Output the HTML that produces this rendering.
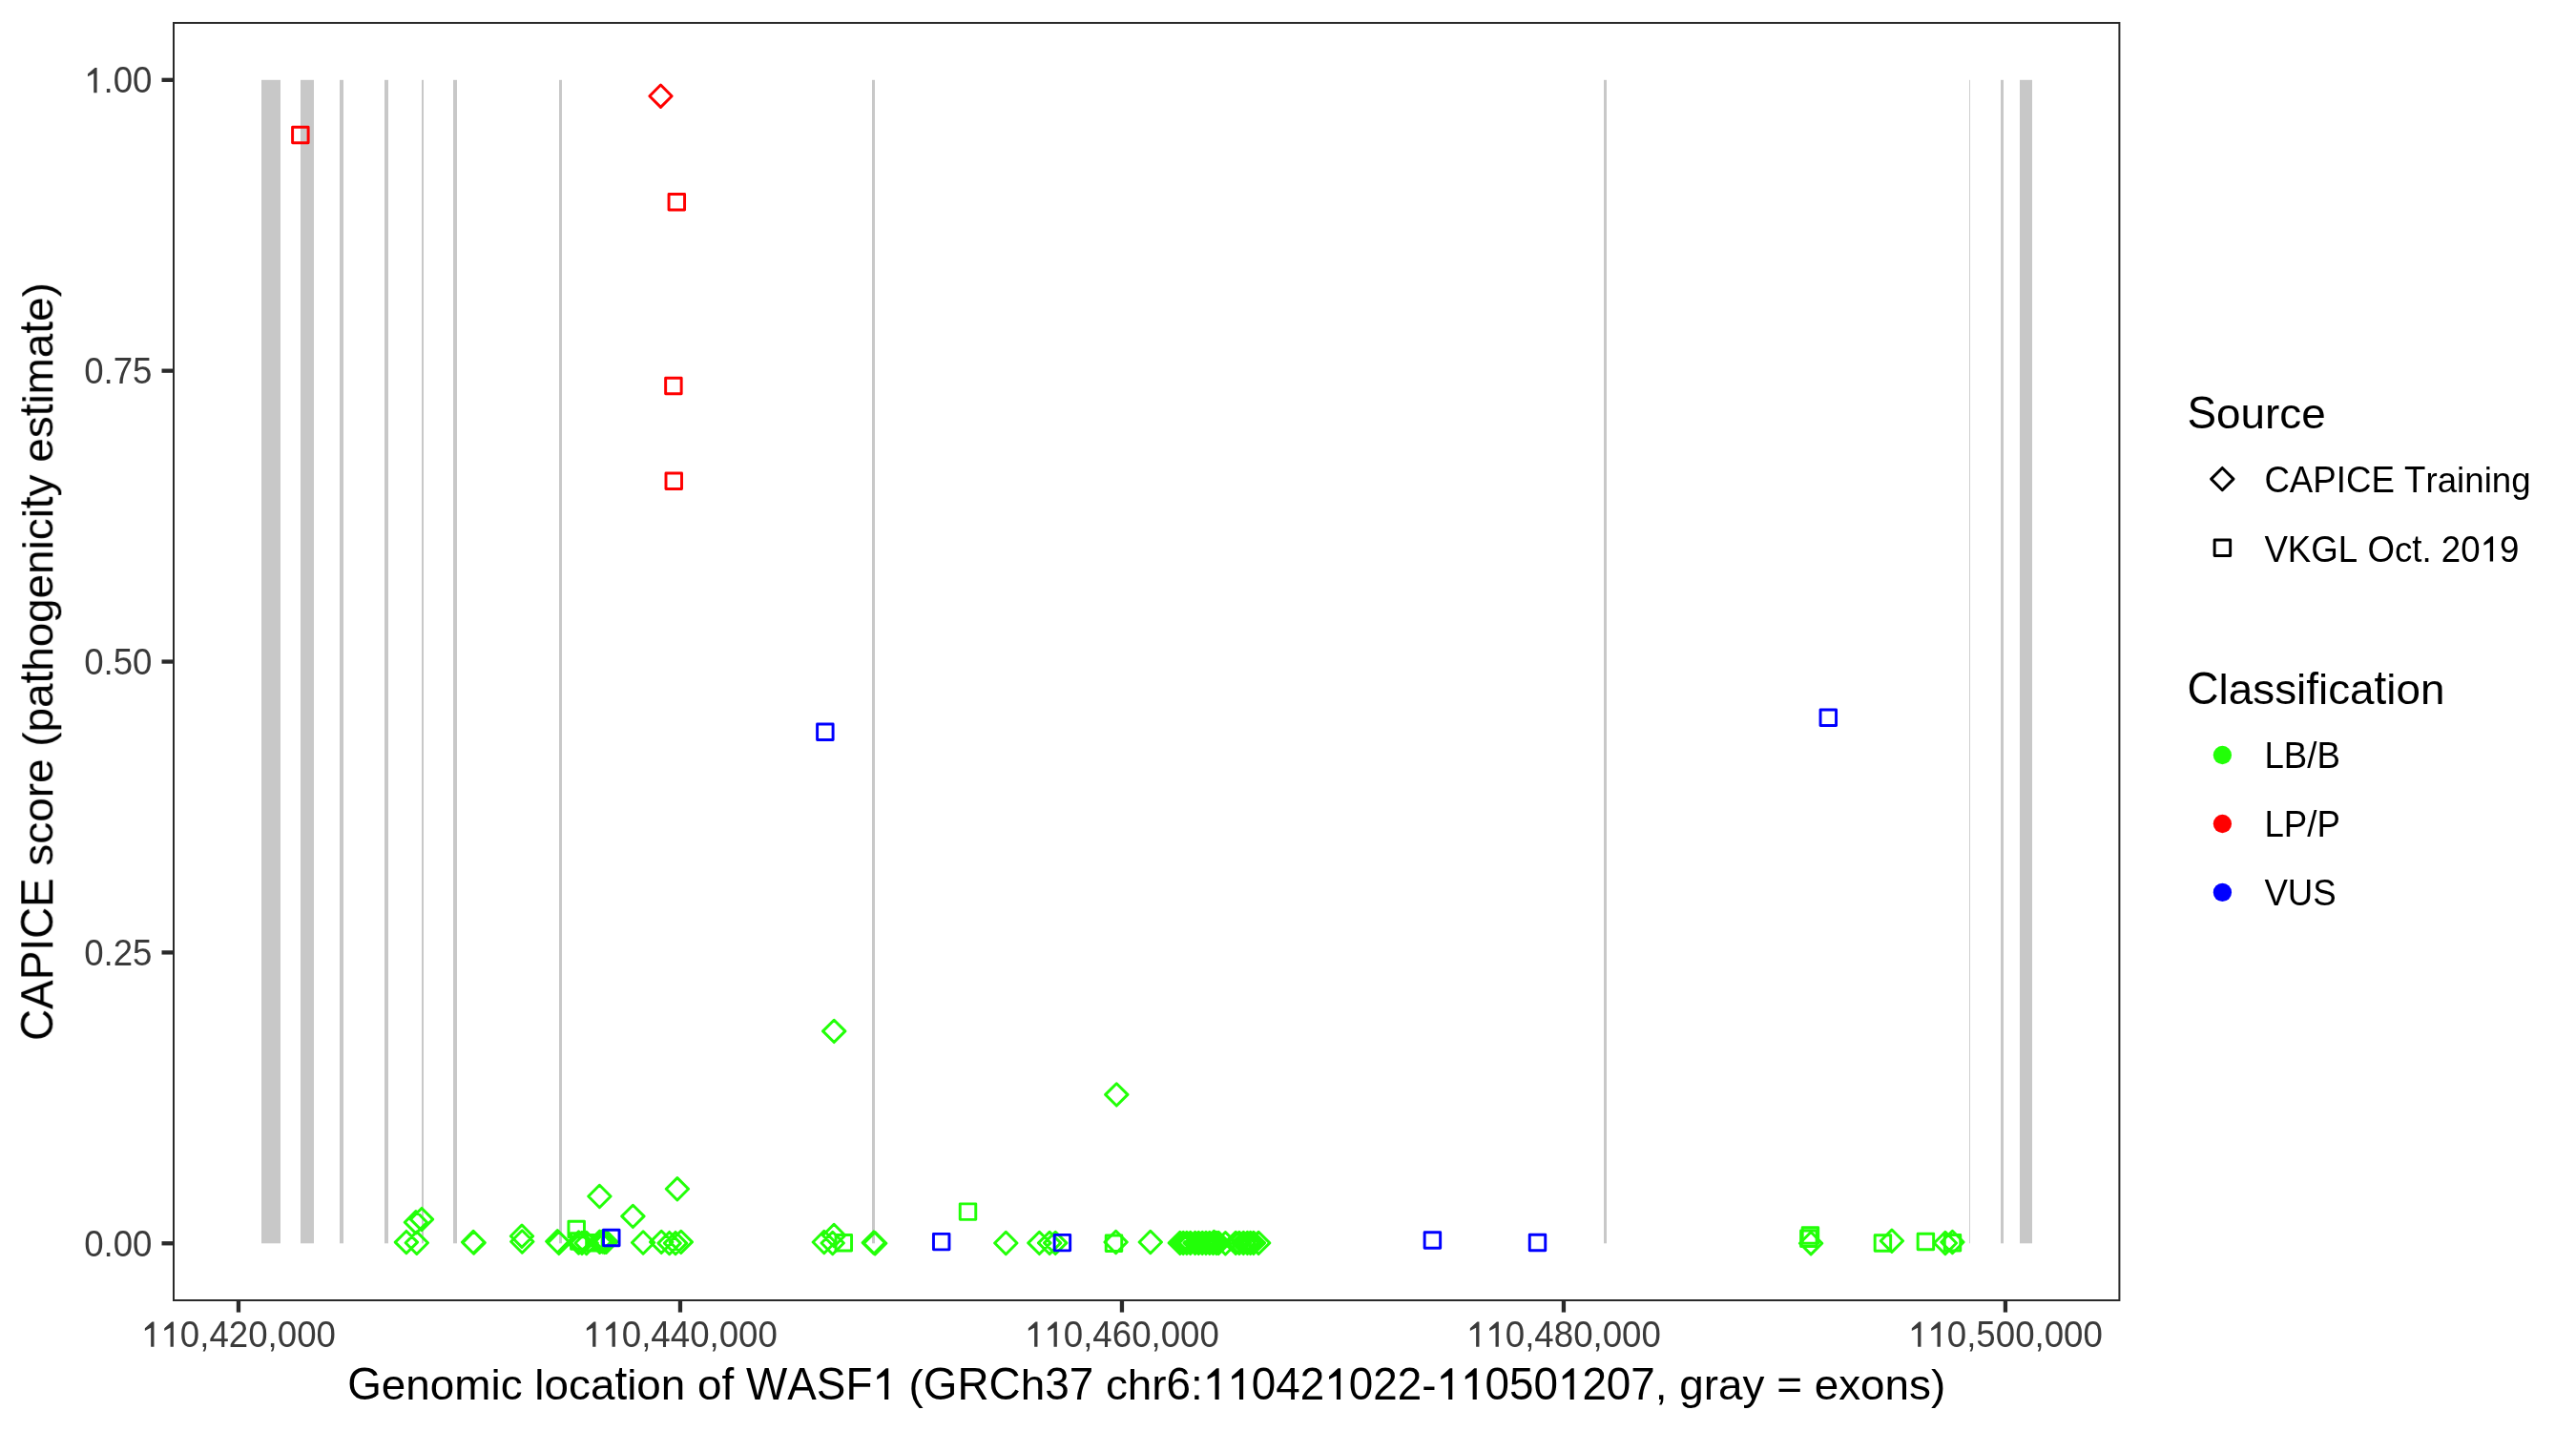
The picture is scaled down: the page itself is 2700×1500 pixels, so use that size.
<!DOCTYPE html>
<html><head><meta charset="utf-8"><title>CAPICE WASF1</title>
<style>html,body{margin:0;padding:0;background:#fff;}svg{display:block;} text{font-family:"Liberation Sans", sans-serif;font-kerning:none;font-variant-ligatures:none;font-feature-settings:"kern" 0,"liga" 0;} .txt{filter:grayscale(1);}</style>
</head><body>
<svg width="2700" height="1500" viewBox="0 0 2700 1500">
<rect x="0" y="0" width="2700" height="1500" fill="#FFFFFF"/>
<g fill="#C8C8C8">
<rect x="274" y="83.80" width="20" height="1219.50"/>
<rect x="315" y="83.80" width="14" height="1219.50"/>
<rect x="356" y="83.80" width="4" height="1219.50"/>
<rect x="403" y="83.80" width="4" height="1219.50"/>
<rect x="442" y="83.80" width="2" height="1219.50"/>
<rect x="475" y="83.80" width="4" height="1219.50"/>
<rect x="586" y="83.80" width="3" height="1219.50"/>
<rect x="914" y="83.80" width="3" height="1219.50"/>
<rect x="1681" y="83.80" width="3" height="1219.50"/>
<rect x="2064.08" y="83.80" width="0.84" height="1219.50"/>
<rect x="2097" y="83.80" width="3" height="1219.50"/>
<rect x="2117" y="83.80" width="13" height="1219.50"/>
</g>
<path d="M874.20 1069.23L885.87 1080.90L874.20 1092.57L862.53 1080.90ZM1170.30 1135.73L1181.97 1147.40L1170.30 1159.07L1158.63 1147.40ZM425.90 1290.43L437.57 1302.10L425.90 1313.77L414.23 1302.10ZM436.80 1291.13L448.47 1302.80L436.80 1314.47L425.13 1302.80ZM435.90 1269.53L447.57 1281.20L435.90 1292.87L424.23 1281.20ZM442.00 1266.43L453.67 1278.10L442.00 1289.77L430.33 1278.10ZM496.10 1290.33L507.77 1302.00L496.10 1313.67L484.43 1302.00ZM496.60 1290.93L508.27 1302.60L496.60 1314.27L484.93 1302.60ZM547.00 1284.03L558.67 1295.70L547.00 1307.37L535.33 1295.70ZM547.30 1289.83L558.97 1301.50L547.30 1313.17L535.63 1301.50ZM584.30 1289.63L595.97 1301.30L584.30 1312.97L572.63 1301.30ZM585.80 1291.23L597.47 1302.90L585.80 1314.57L574.13 1302.90ZM606.50 1290.83L618.17 1302.50L606.50 1314.17L594.83 1302.50ZM610.00 1291.23L621.67 1302.90L610.00 1314.57L598.33 1302.90ZM614.70 1291.33L626.37 1303.00L614.70 1314.67L603.03 1303.00ZM628.60 1290.13L640.27 1301.80L628.60 1313.47L616.93 1301.80ZM631.60 1289.73L643.27 1301.40L631.60 1313.07L619.93 1301.40ZM633.60 1290.23L645.27 1301.90L633.60 1313.57L621.93 1301.90ZM635.40 1290.03L647.07 1301.70L635.40 1313.37L623.73 1301.70ZM628.40 1242.33L640.07 1254.00L628.40 1265.67L616.73 1254.00ZM663.40 1263.23L675.07 1274.90L663.40 1286.57L651.73 1274.90ZM674.10 1290.83L685.77 1302.50L674.10 1314.17L662.43 1302.50ZM693.20 1290.23L704.87 1301.90L693.20 1313.57L681.53 1301.90ZM701.60 1291.43L713.27 1303.10L701.60 1314.77L689.93 1303.10ZM708.00 1291.43L719.67 1303.10L708.00 1314.77L696.33 1303.10ZM713.80 1290.23L725.47 1301.90L713.80 1313.57L702.13 1301.90ZM709.90 1234.63L721.57 1246.30L709.90 1257.97L698.23 1246.30ZM863.80 1290.33L875.47 1302.00L863.80 1313.67L852.13 1302.00ZM874.10 1283.33L885.77 1295.00L874.10 1306.67L862.43 1295.00ZM872.70 1291.33L884.37 1303.00L872.70 1314.67L861.03 1303.00ZM915.80 1290.93L927.47 1302.60L915.80 1314.27L904.13 1302.60ZM917.20 1291.63L928.87 1303.30L917.20 1314.97L905.53 1303.30ZM1054.30 1291.33L1065.97 1303.00L1054.30 1314.67L1042.63 1303.00ZM1089.40 1291.23L1101.07 1302.90L1089.40 1314.57L1077.73 1302.90ZM1100.10 1291.23L1111.77 1302.90L1100.10 1314.57L1088.43 1302.90ZM1106.20 1291.23L1117.87 1302.90L1106.20 1314.57L1094.53 1302.90ZM1169.60 1290.33L1181.27 1302.00L1169.60 1313.67L1157.93 1302.00ZM1205.80 1290.33L1217.47 1302.00L1205.80 1313.67L1194.13 1302.00ZM1898.10 1291.53L1909.77 1303.20L1898.10 1314.87L1886.43 1303.20ZM1982.90 1289.03L1994.57 1300.70L1982.90 1312.37L1971.23 1300.70ZM2038.90 1291.33L2050.57 1303.00L2038.90 1314.67L2027.23 1303.00ZM2046.40 1290.33L2058.07 1302.00L2046.40 1313.67L2034.73 1302.00ZM1236.80 1291.23L1248.47 1302.90L1236.80 1314.57L1225.13 1302.90ZM1240.20 1291.23L1251.87 1302.90L1240.20 1314.57L1228.53 1302.90ZM1243.90 1291.23L1255.57 1302.90L1243.90 1314.57L1232.23 1302.90ZM1247.70 1291.23L1259.37 1302.90L1247.70 1314.57L1236.03 1302.90ZM1252.60 1291.23L1264.27 1302.90L1252.60 1314.57L1240.93 1302.90ZM1256.30 1291.23L1267.97 1302.90L1256.30 1314.57L1244.63 1302.90ZM1260.20 1291.23L1271.87 1302.90L1260.20 1314.57L1248.53 1302.90ZM1264.00 1291.23L1275.67 1302.90L1264.00 1314.57L1252.33 1302.90ZM1267.80 1291.23L1279.47 1302.90L1267.80 1314.57L1256.13 1302.90ZM1271.50 1291.23L1283.17 1302.90L1271.50 1314.57L1259.83 1302.90ZM1275.00 1291.23L1286.67 1302.90L1275.00 1314.57L1263.33 1302.90ZM1277.20 1291.23L1288.87 1302.90L1277.20 1314.57L1265.53 1302.90ZM1272.40 1290.33L1284.07 1302.00L1272.40 1313.67L1260.73 1302.00ZM1284.40 1291.63L1296.07 1303.30L1284.40 1314.97L1272.73 1303.30ZM1295.20 1291.23L1306.87 1302.90L1295.20 1314.57L1283.53 1302.90ZM1298.90 1291.23L1310.57 1302.90L1298.90 1314.57L1287.23 1302.90ZM1303.30 1291.23L1314.97 1302.90L1303.30 1314.57L1291.63 1302.90ZM1307.40 1291.23L1319.07 1302.90L1307.40 1314.57L1295.73 1302.90ZM1310.60 1291.23L1322.27 1302.90L1310.60 1314.57L1298.93 1302.90ZM1313.90 1291.23L1325.57 1302.90L1313.90 1314.57L1302.23 1302.90ZM1319.10 1291.23L1330.77 1302.90L1319.10 1314.57L1307.43 1302.90Z" stroke="#22FF08" fill="none" stroke-width="2.95" stroke-linejoin="round" stroke-linecap="round"/>
<path d="M595.95 1280.25H612.45V1296.75H595.95ZM598.55 1292.75H615.05V1309.25H598.55ZM614.65 1294.40H631.15V1310.90H614.65ZM876.05 1294.55H892.55V1311.05H876.05ZM1006.25 1261.85H1022.75V1278.35H1006.25ZM1159.25 1294.95H1175.75V1311.45H1159.25ZM1889.20 1286.80H1905.70V1303.30H1889.20ZM1887.60 1289.95H1904.10V1306.45H1887.60ZM1965.15 1294.75H1981.65V1311.25H1965.15ZM2010.15 1293.20H2026.65V1309.70H2010.15ZM2038.25 1294.55H2054.75V1311.05H2038.25Z" stroke="#22FF08" fill="none" stroke-width="2.95" stroke-linejoin="round" stroke-linecap="round"/>
<path d="M692.50 89.03L704.17 100.70L692.50 112.37L680.83 100.70Z" stroke="#FF0000" fill="none" stroke-width="2.95" stroke-linejoin="round" stroke-linecap="round"/>
<path d="M306.60 133.25H323.10V149.75H306.60ZM701.05 203.40H717.55V219.90H701.05ZM697.65 396.30H714.15V412.80H697.65ZM698.00 495.90H714.50V512.40H698.00Z" stroke="#FF0000" fill="none" stroke-width="2.95" stroke-linejoin="round" stroke-linecap="round"/>
<path d="M856.60 758.95H873.10V775.45H856.60ZM1908.05 743.90H1924.55V760.40H1908.05ZM632.55 1289.25H649.05V1305.75H632.55ZM978.45 1293.35H994.95V1309.85H978.45ZM1105.15 1294.35H1121.65V1310.85H1105.15ZM1493.15 1291.75H1509.65V1308.25H1493.15ZM1603.25 1294.15H1619.75V1310.65H1603.25Z" stroke="#0000FF" fill="none" stroke-width="2.95" stroke-linejoin="round" stroke-linecap="round"/>
<rect x="182" y="24" width="2039.4" height="1339" fill="none" stroke="#2A2A2A" stroke-width="2"/>
<g stroke="#2A2A2A" stroke-width="4.3">
<line x1="169.5" y1="1303.30" x2="181" y2="1303.30"/>
<line x1="169.5" y1="998.42" x2="181" y2="998.42"/>
<line x1="169.5" y1="693.55" x2="181" y2="693.55"/>
<line x1="169.5" y1="388.67" x2="181" y2="388.67"/>
<line x1="169.5" y1="83.80" x2="181" y2="83.80"/>
<line x1="249.97" y1="1364" x2="249.97" y2="1375.6"/>
<line x1="712.96" y1="1364" x2="712.96" y2="1375.6"/>
<line x1="1175.95" y1="1364" x2="1175.95" y2="1375.6"/>
<line x1="1638.94" y1="1364" x2="1638.94" y2="1375.6"/>
<line x1="2101.93" y1="1364" x2="2101.93" y2="1375.6"/>
</g>
<g class="txt">
<g transform="translate(88.13 1316.65)" fill="#3A3A3A" font-size="36.67"><text transform="scale(1 0.9850)" x="20.39" y="0">.</text><text transform="scale(1 1.0405)" x="0.00 30.58 50.98" y="0">000</text></g>
<g transform="translate(88.13 1011.77)" fill="#3A3A3A" font-size="36.67"><text transform="scale(1 0.9850)" x="20.39" y="0">.</text><text transform="scale(1 1.0405)" x="0.00 30.58 50.98" y="0">025</text></g>
<g transform="translate(88.13 706.90)" fill="#3A3A3A" font-size="36.67"><text transform="scale(1 0.9850)" x="20.39" y="0">.</text><text transform="scale(1 1.0405)" x="0.00 30.58 50.98" y="0">050</text></g>
<g transform="translate(88.13 402.02)" fill="#3A3A3A" font-size="36.67"><text transform="scale(1 0.9850)" x="20.39" y="0">.</text><text transform="scale(1 1.0405)" x="0.00 30.58 50.98" y="0">075</text></g>
<g transform="translate(88.13 97.15)" fill="#3A3A3A" font-size="36.67"><text transform="scale(1 0.9850)" x="20.39" y="0">.</text><text transform="scale(1 1.0405)" x="30.58 50.98" y="0">00</text><path transform="translate(0.00 0) scale(0.017905 -0.017905)" d="M752 0L567 0L567 1120L215 942L215 1092L637 1466L752 1466Z"/></g>
<g transform="translate(148.01 1411.80)" fill="#3A3A3A" font-size="36.67"><text transform="scale(1 0.9850)" x="61.18 132.55" y="0">,,</text><text transform="scale(1 1.0405)" x="40.79 71.37 91.76 112.16 142.74 163.13 183.53" y="0">0420000</text><path transform="translate(0.00 0) scale(0.017905 -0.017905)" d="M752 0L567 0L567 1120L215 942L215 1092L637 1466L752 1466Z"/><path transform="translate(20.39 0) scale(0.017905 -0.017905)" d="M752 0L567 0L567 1120L215 942L215 1092L637 1466L752 1466Z"/></g>
<g transform="translate(611.00 1411.80)" fill="#3A3A3A" font-size="36.67"><text transform="scale(1 0.9850)" x="61.18 132.55" y="0">,,</text><text transform="scale(1 1.0405)" x="40.79 71.37 91.76 112.16 142.74 163.13 183.53" y="0">0440000</text><path transform="translate(0.00 0) scale(0.017905 -0.017905)" d="M752 0L567 0L567 1120L215 942L215 1092L637 1466L752 1466Z"/><path transform="translate(20.39 0) scale(0.017905 -0.017905)" d="M752 0L567 0L567 1120L215 942L215 1092L637 1466L752 1466Z"/></g>
<g transform="translate(1073.99 1411.80)" fill="#3A3A3A" font-size="36.67"><text transform="scale(1 0.9850)" x="61.18 132.55" y="0">,,</text><text transform="scale(1 1.0405)" x="40.79 71.37 91.76 112.16 142.74 163.13 183.53" y="0">0460000</text><path transform="translate(0.00 0) scale(0.017905 -0.017905)" d="M752 0L567 0L567 1120L215 942L215 1092L637 1466L752 1466Z"/><path transform="translate(20.39 0) scale(0.017905 -0.017905)" d="M752 0L567 0L567 1120L215 942L215 1092L637 1466L752 1466Z"/></g>
<g transform="translate(1536.98 1411.80)" fill="#3A3A3A" font-size="36.67"><text transform="scale(1 0.9850)" x="61.18 132.55" y="0">,,</text><text transform="scale(1 1.0405)" x="40.79 71.37 91.76 112.16 142.74 163.13 183.53" y="0">0480000</text><path transform="translate(0.00 0) scale(0.017905 -0.017905)" d="M752 0L567 0L567 1120L215 942L215 1092L637 1466L752 1466Z"/><path transform="translate(20.39 0) scale(0.017905 -0.017905)" d="M752 0L567 0L567 1120L215 942L215 1092L637 1466L752 1466Z"/></g>
<g transform="translate(1999.97 1411.80)" fill="#3A3A3A" font-size="36.67"><text transform="scale(1 0.9850)" x="61.18 132.55" y="0">,,</text><text transform="scale(1 1.0405)" x="40.79 71.37 91.76 112.16 142.74 163.13 183.53" y="0">0500000</text><path transform="translate(0.00 0) scale(0.017905 -0.017905)" d="M752 0L567 0L567 1120L215 942L215 1092L637 1466L752 1466Z"/><path transform="translate(20.39 0) scale(0.017905 -0.017905)" d="M752 0L567 0L567 1120L215 942L215 1092L637 1466L752 1466Z"/></g>
<g transform="translate(364.23 1467.10)" fill="#000000" font-size="45.83"><text transform="scale(1 0.9850)" x="35.65 61.14 86.62 112.11 150.29 160.47 196.12 206.30 231.79 254.71 292.93 303.11 328.60 366.82 588.38 705.49 794.69 817.60 843.09 883.84 1125.97 1370.63 1396.09 1421.58 1436.84 1462.33 1497.98 1537.48 1562.96 1585.88 1611.37 1636.86 1659.77" y="0">enomiclocaiono(hchr:-,gray=exons)</text><text transform="scale(1 1.0000)" x="392.31" y="0">f</text><text transform="scale(1 1.0405)" x="0.00 417.77 461.03 491.60 522.17 603.64 639.29 672.39 730.98 756.46 858.35 947.55 973.04 998.53 1049.50 1074.99 1100.48 1192.21 1217.70 1243.18 1294.16 1319.65 1345.14" y="0">GWASFGRC376042022050207</text><text transform="scale(1 1.0870)" x="280.19" y="0">t</text><path transform="translate(550.16 0) scale(0.022378 -0.022378)" d="M752 0L567 0L567 1120L215 942L215 1092L637 1466L752 1466Z"/><path transform="translate(896.57 0) scale(0.022378 -0.022378)" d="M752 0L567 0L567 1120L215 942L215 1092L637 1466L752 1466Z"/><path transform="translate(922.06 0) scale(0.022378 -0.022378)" d="M752 0L567 0L567 1120L215 942L215 1092L637 1466L752 1466Z"/><path transform="translate(1024.01 0) scale(0.022378 -0.022378)" d="M752 0L567 0L567 1120L215 942L215 1092L637 1466L752 1466Z"/><path transform="translate(1141.23 0) scale(0.022378 -0.022378)" d="M752 0L567 0L567 1120L215 942L215 1092L637 1466L752 1466Z"/><path transform="translate(1166.72 0) scale(0.022378 -0.022378)" d="M752 0L567 0L567 1120L215 942L215 1092L637 1466L752 1466Z"/><path transform="translate(1268.67 0) scale(0.022378 -0.022378)" d="M752 0L567 0L567 1120L215 942L215 1092L637 1466L752 1466Z"/></g>
<g transform="translate(55.3 1090.90) rotate(-90)">
<g transform="translate(0.00 0.00)" fill="#000000" font-size="45.83"><text transform="scale(1 0.9850)" x="183.36 206.28 229.19 254.68 269.94 308.17 323.43 348.92 387.14 412.63 438.12 463.60 489.09 514.58 524.76 547.68 570.59 606.24 631.73 667.38 677.56 715.74 753.96 779.45" y="0">score(pahogeniciyesimae)</text><text transform="scale(1 1.0405)" x="0.00 33.10 63.67 94.23 106.97 140.06" y="0">CAPICE</text><text transform="scale(1 1.0870)" x="374.41 557.86 654.64 741.22" y="0">tttt</text></g>
</g>
<g transform="translate(2292.50 449.30)" fill="#000000" font-size="45.83"><text transform="scale(1 0.9850)" x="30.57 56.06 81.55 96.81 119.72" y="0">ource</text><text transform="scale(1 1.0405)" x="0.00" y="0">S</text></g>
<g transform="translate(2373.40 515.90)" fill="#000000" font-size="36.67"><text transform="scale(1 0.9850)" x="169.12 181.33 201.72 209.87 230.26 238.41 258.80" y="0">raining</text><text transform="scale(1 1.0405)" x="0.00 26.48 50.94 75.40 85.59 112.07 146.72" y="0">CAPICET</text></g>
<g transform="translate(2373.40 588.60)" fill="#000000" font-size="36.67"><text transform="scale(1 0.9850)" x="136.55 165.07" y="0">c.</text><text transform="scale(1 1.0405)" x="0.00 24.46 48.92 77.44 108.02 185.44 205.84 246.63" y="0">VKGLO209</text><text transform="scale(1 1.0870)" x="154.88" y="0">t</text><path transform="translate(226.23 0) scale(0.017905 -0.017905)" d="M752 0L567 0L567 1120L215 942L215 1092L637 1466L752 1466Z"/></g>
<g transform="translate(2292.50 738.40)" fill="#000000" font-size="45.83"><text transform="scale(1 0.9850)" x="33.10 43.28 68.77 91.68 114.60 137.51 147.69 170.61 208.83 219.01 244.50" y="0">lassiicaion</text><text transform="scale(1 1.0000)" x="124.78" y="0">f</text><text transform="scale(1 1.0405)" x="0.00" y="0">C</text><text transform="scale(1 1.0870)" x="196.10" y="0">t</text></g>
<g transform="translate(2373.40 804.70)" fill="#000000" font-size="36.67"><text transform="scale(1 1.0405)" x="0.00 20.39 44.85 55.04" y="0">LB/B</text></g>
<g transform="translate(2373.40 876.60)" fill="#000000" font-size="36.67"><text transform="scale(1 1.0405)" x="0.00 20.39 44.85 55.04" y="0">LP/P</text></g>
<g transform="translate(2373.40 948.60)" fill="#000000" font-size="36.67"><text transform="scale(1 1.0405)" x="0.00 24.46 50.94" y="0">VUS</text></g>
</g>
<path d="M2329.30 490.43L2340.97 502.10L2329.30 513.77L2317.63 502.10Z" stroke="#000" fill="none" stroke-width="2.95" stroke-linejoin="round" stroke-linecap="round"/>
<path d="M2321.15 565.95H2337.65V582.45H2321.15Z" stroke="#000" fill="none" stroke-width="2.95" stroke-linejoin="round" stroke-linecap="round"/>
<circle cx="2329.4" cy="791.5" r="9.65" fill="#22FF08"/>
<circle cx="2329.4" cy="863.5" r="9.65" fill="#FF0000"/>
<circle cx="2329.4" cy="935.4" r="9.65" fill="#0000FF"/>
</svg></body></html>
